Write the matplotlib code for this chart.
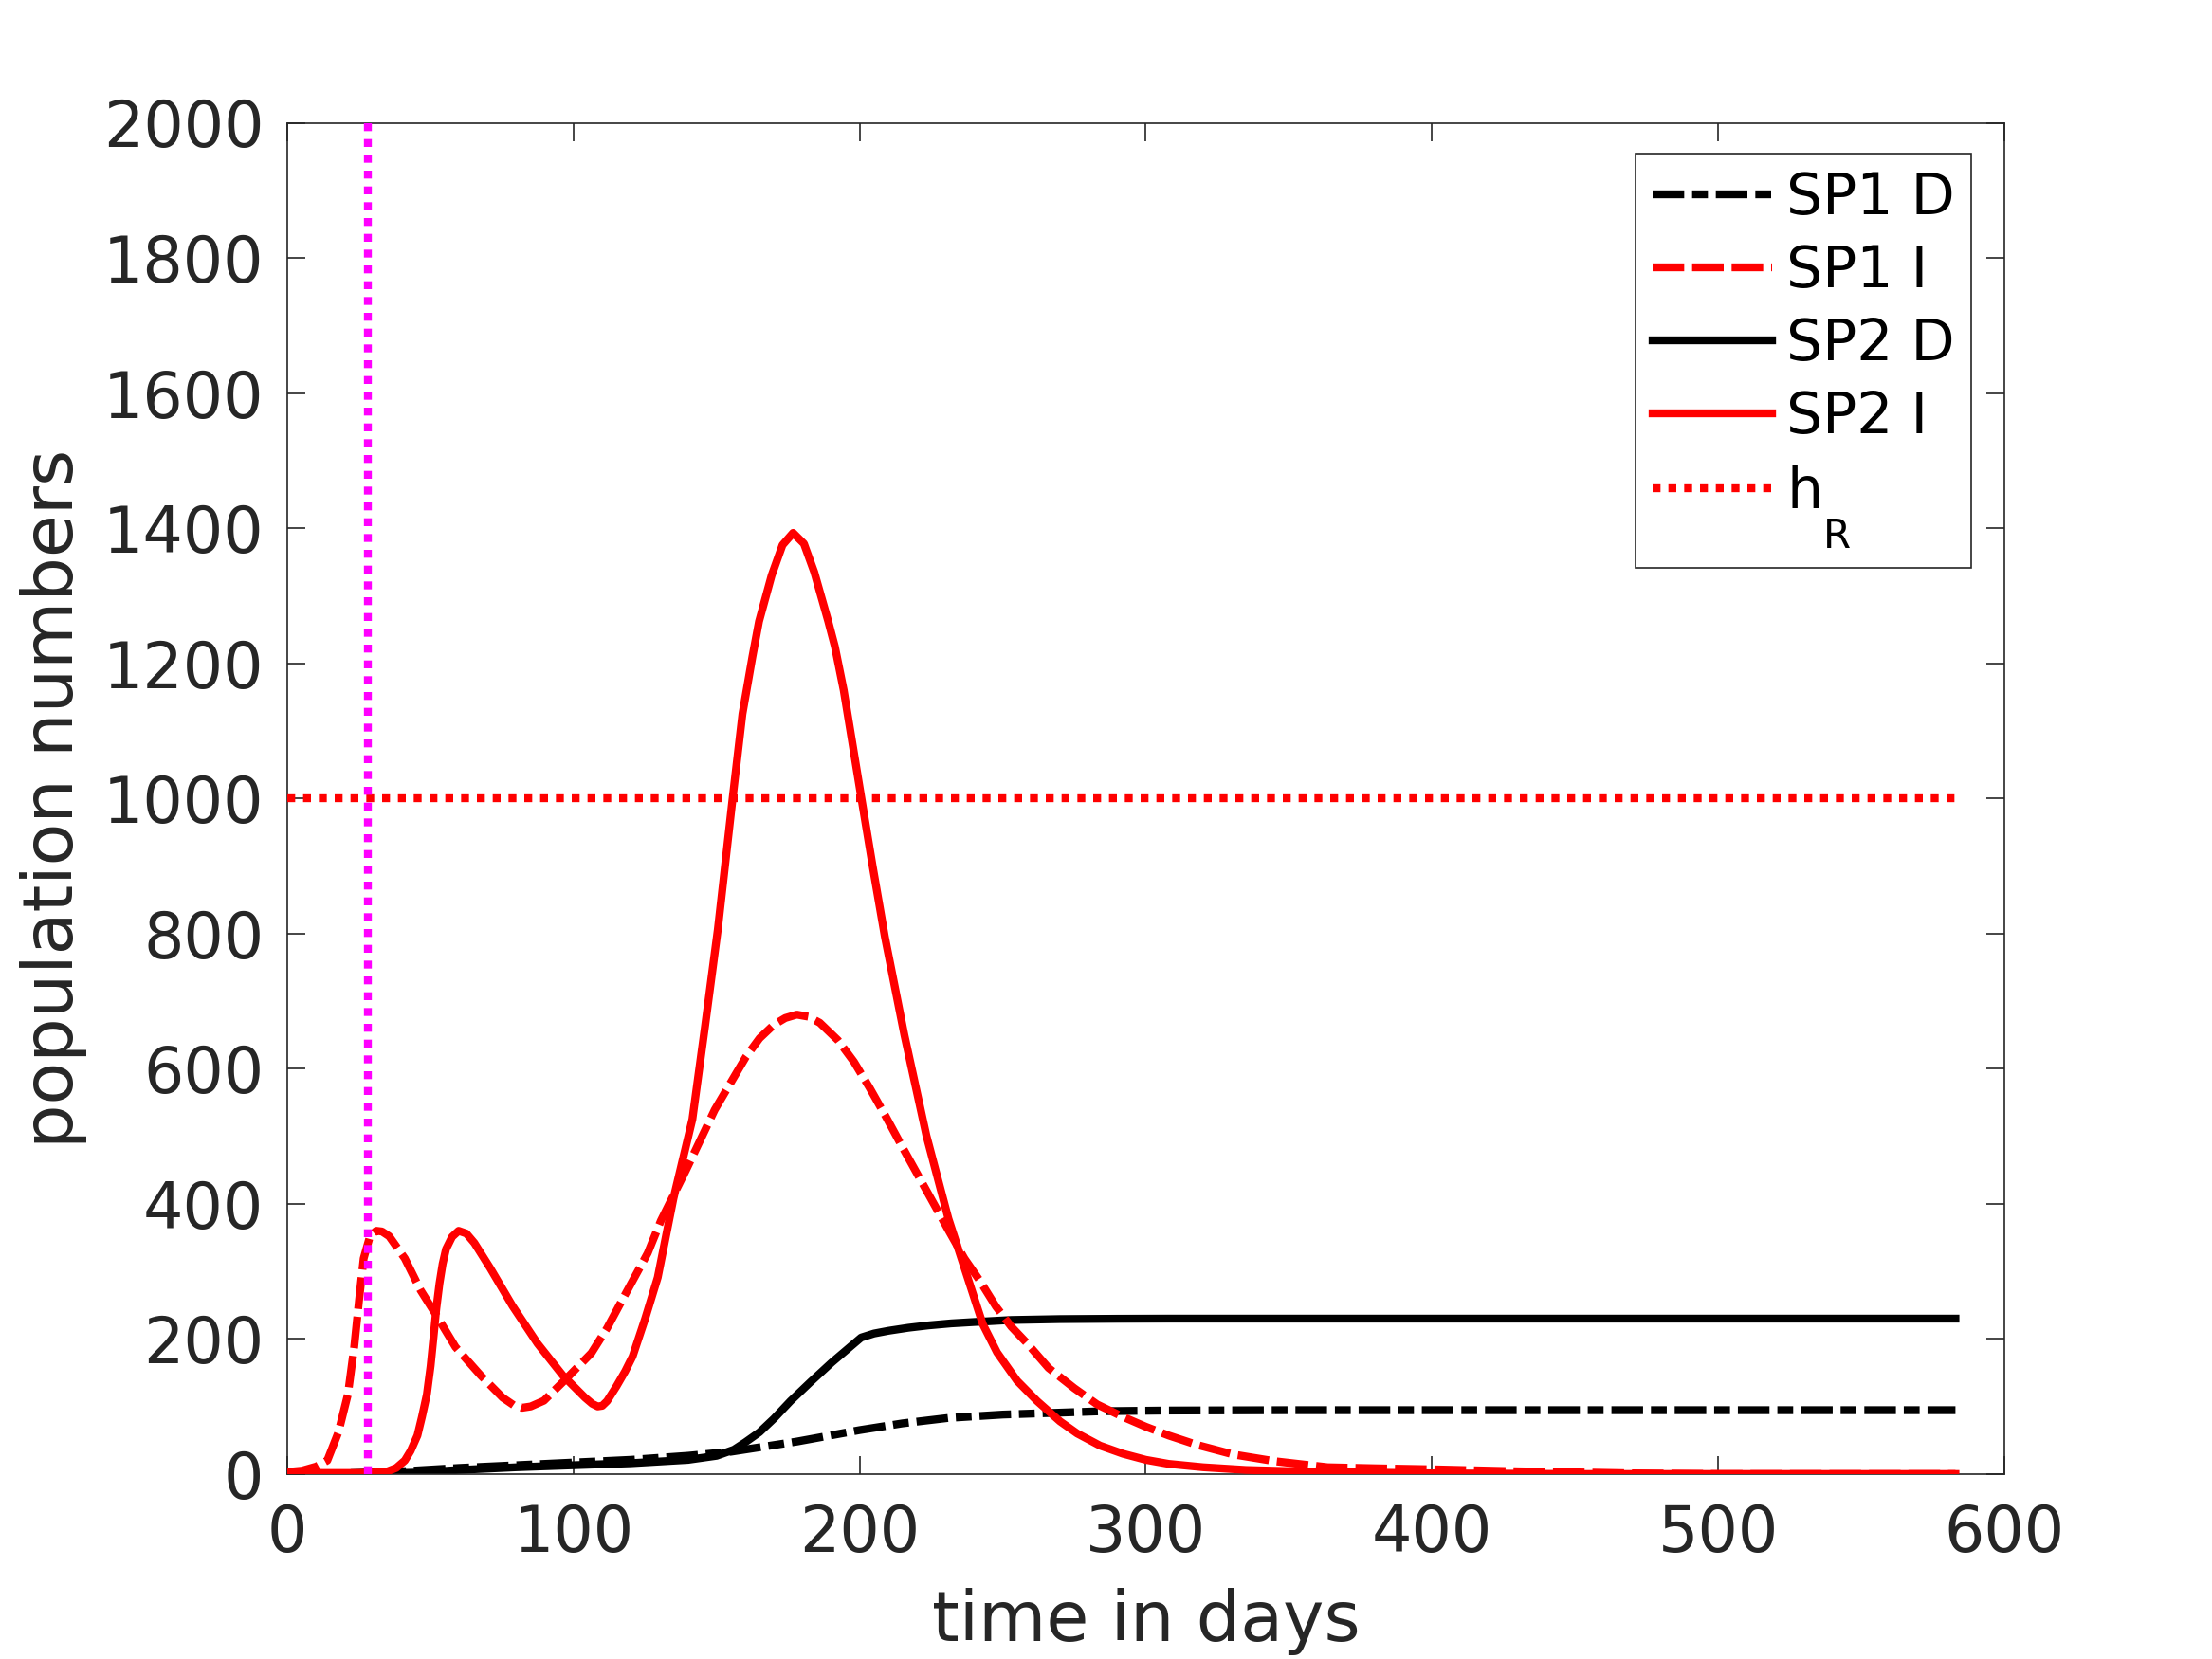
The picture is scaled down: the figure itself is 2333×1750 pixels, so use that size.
import numpy as np
import matplotlib
matplotlib.use("Agg")
import matplotlib.pyplot as plt
from matplotlib.mathtext import MathTextParser
from matplotlib.font_manager import FontProperties

# values (days, population numbers)
t_sp1_d = [0, 20, 40, 60, 80, 100, 120, 140, 155, 178, 200, 215, 231, 250, 264, 285, 308, 350, 583]
sp1_d = [0, 1, 4, 9, 13, 17, 21, 27, 33, 48, 65, 75, 83, 88, 90, 93, 94, 94.5, 94.5]

t_sp1_i = [0, 5, 10, 13.9, 17.8, 21.1, 23.3, 25, 26.6, 28.8, 31, 33, 35.5, 41, 46.5, 52, 58.7,
           67.5, 75.2, 79, 81.9, 85, 89.6, 97.4, 106.2, 111.7, 118.3, 125.9, 130.5, 139.3, 149.3,
           155, 160.3, 165, 170, 174, 178, 182, 186, 192.4, 198, 203.4, 209, 214.5, 220, 225.5,
           231, 236.6, 242, 247.6, 253, 258.6, 266, 275, 283, 291.8, 300, 308, 318, 330.5, 345,
           363.6, 380, 400, 430, 470, 500, 583]
sp1_i = [3, 5, 11, 20, 62, 118, 188, 258, 319, 352, 360, 359, 352, 319, 272, 235, 188,
         146, 113, 102, 98, 100, 108.5, 141, 179, 216, 268, 327, 375, 450, 539,
         580, 618, 645, 665, 675, 680, 677, 668, 642, 610, 572, 530, 487, 445, 403,
         361, 319, 286, 248, 218, 193, 157, 127, 103, 85, 70, 57, 43, 29, 19,
         10, 8.5, 7, 4, 1, 0, 0]

t_sp2_d = [0, 30, 45, 60, 80, 100, 120, 140, 150, 156, 160, 165, 170, 175.8, 183, 190.2, 200.5,
           205, 210, 217, 224, 232, 240, 253, 270, 290, 308, 583]
sp2_d = [0, 0.5, 2, 6, 10, 13, 16, 21, 27, 36, 47, 62, 82, 108, 137, 165, 202,
         208, 212, 216.5, 220, 223, 225, 228, 229.3, 229.8, 230, 230]

t_sp2_i = [0, 12.3, 25, 34.4, 38, 41, 43, 45.4, 47, 48.7, 50, 51, 52, 53.1, 54.2, 55.4, 57.5,
           59.8, 62.5, 65.3, 70.8, 78.6, 87.4, 96.2, 104, 106.5, 108.4, 110, 111.7, 115, 118,
           120.6, 125, 129.4, 134.9, 141.5, 146, 150.4, 155.7, 159, 162.5, 164.8, 169.2, 173,
           176.7, 180.5, 184.1, 189, 191.3, 194.4, 200.4, 204.5, 208.8, 215.6, 223.3, 231,
           237.7, 243, 248, 255, 262, 270, 276, 284, 292, 300, 308, 320, 335, 361, 400, 450,
           500, 583]
sp2_i = [3, 1.5, 1.5, 3, 9, 20, 34, 57, 85, 118, 160, 202, 245, 282, 311, 333, 351,
         360, 356, 342, 305, 249, 193, 146, 113, 104, 100, 101, 108, 130, 152,
         174, 230, 291, 408, 525, 665, 806, 1005, 1125, 1210, 1262, 1330, 1375,
         1393, 1377, 1335, 1262, 1225, 1160, 1005, 900, 795, 650, 501, 378,
         291, 222, 180, 138, 108, 78, 60, 42, 30, 21, 15, 10, 6, 3, 1, 0,
         0, 0]

h_R = 1000
t_end = 583
t_switch = 28

# MATLAB-style low subscript for the threshold label, plain subscript as fallback
hr_label = r"h$\underset{\mathrm{R}}{\,}$"
try:
    MathTextParser("agg").parse(r"$\underset{\mathrm{R}}{\,}$", dpi=72, prop=FontProperties())
except Exception:
    hr_label = r"h$_\mathrm{R}$"
labels = ["SP1 D", "SP1 I", "SP2 D", "SP2 I", hr_label]

plt.rcParams["font.family"] = "DejaVu Sans"
plt.rcParams["mathtext.fontset"] = "dejavusans"

fig = plt.figure(figsize=(2333 / 200, 1750 / 200), dpi=200)
ax = fig.add_axes([0.13, 0.1115, 0.776, 0.8145])

lw = 3.0
gray = "0.15"

l1, = ax.plot(t_sp1_d, sp1_d, color="black", lw=lw, ls=(0, (4, 1, 2, 1)), zorder=2)
l2, = ax.plot(t_sp1_i, sp1_i, color="red", lw=lw, ls=(0, (4, 1)), zorder=3)
l3, = ax.plot(t_sp2_d, sp2_d, color="black", lw=lw, ls="-", zorder=2)
l4, = ax.plot(t_sp2_i, sp2_i, color="red", lw=lw, ls="-", zorder=3)
l5, = ax.plot([0, t_end], [h_R, h_R], color="red", lw=lw, ls=(0, (1, 1)), zorder=3)
ax.plot([t_switch, t_switch], [0, 2000], color="magenta", lw=lw, ls=(0, (1, 1)), zorder=4)

ax.set_xlim(0, 600)
ax.set_ylim(0, 2000)
ax.set_xticks(np.arange(0, 601, 100))
ax.set_yticks(np.arange(0, 2001, 200))

ax.tick_params(direction="in", length=7, width=0.6, colors=gray, labelsize=24,
               top=True, right=True)
ax.tick_params(axis="x", pad=11)
ax.tick_params(axis="y", pad=9)
for s in ax.spines.values():
    s.set_color(gray)
    s.set_linewidth(0.6)

ax.set_xlabel("time in days", fontsize=26.4, color=gray, labelpad=8.5)
ax.set_ylabel("population numbers", fontsize=26.4, color=gray, labelpad=6)

leg = ax.legend([l1, l2, l3, l4, l5], labels, loc="upper right",
                bbox_to_anchor=(0.981, 0.977), borderaxespad=0, fontsize=21.6,
                handlelength=2.1, handletextpad=0.25, labelspacing=0.3,
                borderpad=0.3, fancybox=False, framealpha=1)
leg.get_frame().set_edgecolor(gray)
leg.get_frame().set_linewidth(0.6)

fig.savefig("out.png", dpi=200)
